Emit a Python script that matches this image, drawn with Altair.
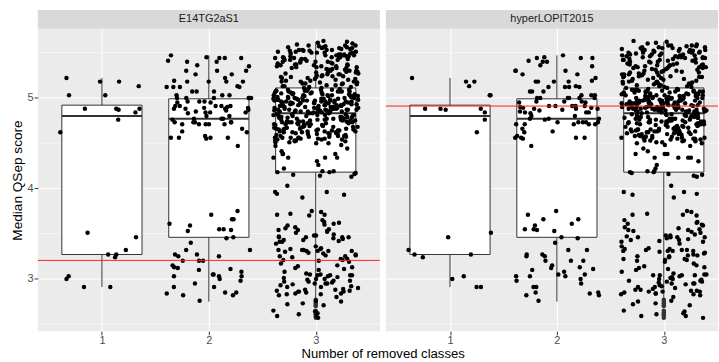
import altair as alt
import pandas as pd

# ---- data -------------------------------------------------------------
panel_names = ["E14TG2aS1", "hyperLOPIT2015"]
reference_score = [3.205, 4.91]      # red reference line per data set
removed_classes = [1, 2, 3]

# box statistics per number of removed classes
whisker_low = [2.91, 2.75, 2.79]
box_q1 = [3.27, 3.46, 4.18]
box_median = [4.80, 4.77, 4.83]
box_q3 = [4.92, 4.99, 5.11]
whisker_high = [5.22, 5.47, 5.62]
outliers_3 = [2.77, 2.75, 2.73, 2.71, 2.70, 2.65, 2.63, 2.61, 2.59, 2.57]

scores_1 = [5.22, 5.18, 5.18, 5.13, 5.03, 5.03, 4.88, 4.88, 4.88, 4.87, 4.84,
            4.76, 4.62, 3.51, 3.46, 3.32, 3.27, 3.27, 3.24, 3.03, 3.00, 2.91, 2.91]

scores_2 = [5.44, 5.44, 5.44, 5.40, 5.40, 5.36, 5.30, 5.47, 5.41, 5.35, 5.30, 5.30,
            5.45, 5.26, 5.26, 5.22, 5.19, 5.18, 5.18, 5.18, 5.18, 5.13, 5.12, 5.12,
            5.12, 5.12, 5.07, 5.07, 5.07, 5.03, 5.03, 5.00, 5.03, 5.00, 5.00, 5.00,
            5.00, 5.00, 4.95, 4.96, 4.96, 4.96, 4.95, 4.91, 4.90, 4.89, 4.91, 4.91,
            4.91, 4.89, 4.88, 4.88, 4.91, 4.88, 4.85, 4.87, 4.84, 4.84, 4.80, 4.86,
            4.83, 4.84, 4.77, 4.73, 4.73, 4.73, 4.73, 4.73, 4.71, 4.71, 4.76, 4.71,
            4.71, 4.77, 4.77, 4.71, 4.80, 4.66, 4.62, 4.63, 4.56, 4.56, 4.56, 4.58,
            4.56, 4.55, 4.47,
            3.75, 3.71, 3.66, 3.66, 3.61, 3.55, 3.53, 3.54, 3.59, 3.55, 3.46, 3.45,
            3.40, 3.32, 3.27, 3.32, 3.25, 3.27, 3.25, 3.20, 3.20, 3.20, 3.15, 3.12,
            3.11, 3.08, 3.13, 3.05, 3.10, 3.05, 3.03, 3.03, 3.00, 3.03, 2.98, 2.95,
            2.91, 2.91, 2.85, 2.84, 2.82, 2.82, 2.85, 2.76]

scores_3 = [
    5.63, 5.62, 5.61, 5.60,
    5.59, 5.58, 5.58, 5.57, 5.57, 5.56, 5.56, 5.55, 5.55, 5.55,
    5.54, 5.54, 5.53, 5.53, 5.53, 5.52, 5.52, 5.52, 5.51, 5.51,
    5.51, 5.50, 5.50, 5.50, 5.50, 5.53, 5.56, 5.58,
    5.49, 5.49, 5.48, 5.48, 5.48, 5.47, 5.47, 5.47, 5.46, 5.46,
    5.46, 5.45, 5.45, 5.45, 5.44, 5.44, 5.44, 5.43, 5.43, 5.42,
    5.42, 5.42, 5.41, 5.41, 5.40, 5.40, 5.40, 5.45, 5.47, 5.43,
    5.39, 5.39, 5.38, 5.38, 5.37, 5.37, 5.36, 5.36, 5.36, 5.35,
    5.35, 5.34, 5.34, 5.34, 5.33, 5.33, 5.32, 5.32, 5.31, 5.31,
    5.30, 5.30, 5.30, 5.35, 5.37, 5.33,
    5.29, 5.29, 5.28, 5.28, 5.27, 5.27, 5.26, 5.26, 5.25, 5.25,
    5.24, 5.24, 5.23, 5.23, 5.23, 5.22, 5.22, 5.21, 5.21, 5.20,
    5.20, 5.26, 5.24, 5.28,
    5.19, 5.19, 5.18, 5.18, 5.17, 5.17, 5.16, 5.16, 5.15, 5.15,
    5.14, 5.14, 5.13, 5.13, 5.12, 5.12, 5.11, 5.11, 5.16, 5.18,
    5.10, 5.10, 5.09, 5.09, 5.09, 5.08, 5.08, 5.08, 5.07, 5.07,
    5.07, 5.07, 5.06, 5.06, 5.06, 5.05, 5.05, 5.05, 5.04, 5.04,
    5.04, 5.03, 5.03, 5.03, 5.03, 5.02, 5.02, 5.02, 5.01, 5.01,
    5.01, 5.00, 5.00, 5.00, 5.00, 5.00, 5.05, 5.08, 5.06, 5.02,
    5.04, 5.09, 5.01, 5.07, 5.03,
    4.99, 4.99, 4.99, 4.98, 4.98, 4.98, 4.97, 4.97, 4.97, 4.97,
    4.96, 4.96, 4.96, 4.95, 4.95, 4.95, 4.95, 4.94, 4.94, 4.94,
    4.93, 4.93, 4.93, 4.92, 4.92, 4.92, 4.92, 4.96, 4.98, 4.94,
    4.97, 4.93, 4.95, 4.99, 4.92, 4.96, 4.94, 4.98, 4.93, 4.97,
    4.95, 4.92, 4.99, 4.94, 4.96,
    4.91, 4.91, 4.91, 4.90, 4.90, 4.90, 4.89, 4.89, 4.89, 4.88,
    4.88, 4.88, 4.88, 4.87, 4.87, 4.87, 4.87, 4.86, 4.86, 4.86,
    4.85, 4.85, 4.85, 4.84, 4.84, 4.84, 4.83, 4.83, 4.83, 4.90,
    4.88, 4.86, 4.89, 4.85, 4.87, 4.91, 4.84, 4.88, 4.90, 4.86,
    4.89, 4.85, 4.87,
    4.82, 4.82, 4.82, 4.81, 4.81, 4.81, 4.80, 4.80, 4.80, 4.79,
    4.79, 4.79, 4.78, 4.78, 4.78, 4.77, 4.77, 4.77, 4.76, 4.76,
    4.76, 4.75, 4.75, 4.75, 4.74, 4.74, 4.74, 4.73, 4.73, 4.73,
    4.72, 4.72, 4.72, 4.71, 4.71, 4.71, 4.71, 4.70, 4.70, 4.70,
    4.81, 4.78, 4.75, 4.72, 4.79, 4.76, 4.73, 4.80, 4.77, 4.74,
    4.69, 4.69, 4.68, 4.68, 4.68, 4.67, 4.67, 4.66, 4.66, 4.66,
    4.65, 4.65, 4.64, 4.64, 4.64, 4.63, 4.63, 4.62, 4.62, 4.62,
    4.61, 4.61, 4.60, 4.60, 4.60, 4.67, 4.65, 4.63, 4.61, 4.69,
    4.66, 4.64, 4.62, 4.68, 4.60, 4.65, 4.63,
    4.59, 4.59, 4.58, 4.58, 4.57, 4.57, 4.56, 4.56, 4.56, 4.56,
    4.55, 4.55, 4.54, 4.54, 4.53, 4.53, 4.52, 4.52, 4.51, 4.51,
    4.50, 4.50, 4.57, 4.55, 4.53, 4.58, 4.56, 4.54,
    4.48, 4.44, 4.41, 4.38, 4.38, 4.38, 4.34, 4.34, 4.34, 4.34,
    4.30, 4.26, 4.22, 4.19, 4.19, 4.18, 4.18, 4.47,
    4.17, 4.16, 4.15, 4.14, 4.13, 4.03, 3.96, 3.96, 3.94, 3.93, 3.90,
    3.74, 3.72, 3.71, 3.71, 3.70, 3.65, 3.63, 3.62, 3.61, 3.60, 3.59,
    3.56, 3.55, 3.54, 3.54, 3.53, 3.51, 3.49, 3.48, 3.48, 3.47, 3.46,
    3.46, 3.46, 3.46, 3.45, 3.44, 3.43, 3.42, 3.41, 3.41, 3.39,
    3.34, 3.33, 3.33, 3.32, 3.32, 3.32, 3.31, 3.31, 3.31, 3.31, 3.30,
    3.28, 3.26, 3.26, 3.25, 3.25, 3.24, 3.22, 3.21, 3.21, 3.20, 3.19,
    3.17, 3.15, 3.14, 3.12, 3.11,
    3.08, 3.06, 3.05, 3.05, 3.04, 3.04, 3.04, 3.04, 3.03, 3.00, 3.00,
    2.99, 2.98, 2.98, 2.97, 2.97, 2.96, 2.95, 2.95, 2.95, 2.93, 2.92,
    2.91, 2.91, 2.89, 2.88, 2.88, 2.87, 2.86, 2.86, 2.86, 2.85, 2.84,
    2.84, 2.83, 2.83, 2.82,
    2.75, 2.73, 2.71, 2.65, 2.64, 2.62, 2.59, 2.59,
    3.75, 3.57, 3.52, 3.43, 3.27, 3.22, 3.13, 3.02, 2.94, 2.87,
    2.80, 2.76, 2.72, 2.61, 2.57, 3.36, 3.29, 3.10, 3.01, 2.90,
]

# ---- layout / style ---------------------------------------------------
FONT = "Liberation Sans"
Y_DOMAIN = [2.423, 5.763]
STEP = 107.5          # pixels per class on the x axis
HEIGHT = 304
WIDTHS = [344, 334]
BOX_HALF = 0.375
JITTER = 0.8
STRIP = 19
DARK = "#333333"
REF_RED = "#FF2020"

score_lists = [scores_1, scores_2, scores_3]

boxes = pd.DataFrame({
    "cls": removed_classes, "low": whisker_low, "q1": box_q1,
    "med": box_median, "q3": box_q3, "high": whisker_high,
})
outliers = pd.DataFrame({"cls": 3, "score": outliers_3})
minor = pd.DataFrame({"g": [2.5, 3.5, 4.5, 5.5]})


def panel(i):
    width = WIDTHS[i]
    xs = alt.Scale(domain=[0.4, 0.4 + width / STEP], nice=False, zero=False)
    ys = alt.Scale(domain=Y_DOMAIN, nice=False, zero=False)
    xaxis = alt.Axis(values=[1, 2, 3], format="d", title=None, grid=True, labelPadding=0)
    if i == 0:
        yaxis = alt.Axis(values=[3, 4, 5], format="d", title="Median QSep score", grid=True)
    else:
        yaxis = alt.Axis(values=[3, 4, 5], labels=False, ticks=False, title=None, grid=True)

    def X(f):
        return alt.X(f, scale=xs, axis=xaxis)

    def Y(f):
        return alt.Y(f, scale=ys, axis=yaxis)

    rows = []
    for c, vals in zip(removed_classes, score_lists):
        for k, v in enumerate(vals):
            rows.append({"cls": c, "score": v, "idx": k + 1000 * c})
    pts = pd.DataFrame(rows)
    seed = 17.31 + 41.7 * i

    grid_minor = alt.Chart(minor).mark_rule(color="white", strokeWidth=0.55).encode(y=Y("g:Q"))

    whisk = alt.Chart(boxes).mark_rule(color=DARK, strokeWidth=1).encode(
        x=X("cls:Q"), y=Y("low:Q"), y2="high:Q")

    box = alt.Chart(boxes).transform_calculate(
        lo=f"datum.cls - {BOX_HALF}", hi=f"datum.cls + {BOX_HALF}"
    ).mark_rect(fill="white", stroke=DARK, strokeWidth=1).encode(
        x=X("lo:Q"), x2="hi:Q", y=Y("q1:Q"), y2="q3:Q")

    med = alt.Chart(boxes).transform_calculate(
        lo=f"datum.cls - {BOX_HALF}", hi=f"datum.cls + {BOX_HALF}"
    ).mark_rule(color=DARK, strokeWidth=2).encode(
        x=X("lo:Q"), x2="hi:Q", y=Y("med:Q"))

    outl = alt.Chart(outliers).mark_circle(size=20, color=DARK, opacity=1).encode(
        x=X("cls:Q"), y=Y("score:Q"))

    jit = alt.Chart(pts).transform_calculate(
        xj=f"datum.cls + {JITTER} * ((abs(sin(datum.idx * 12.9898 + {seed}) * 43758.5453) % 1) - 0.5)"
    ).mark_circle(size=20, color="black", opacity=1, clip=True).encode(
        x=X("xj:Q"), y=Y("score:Q"))

    ref = alt.Chart(pd.DataFrame({"ref": [reference_score[i]], "p": [i]})).mark_rule(
        stroke=REF_RED, color=REF_RED, strokeWidth=1).encode(
        y=Y("ref:Q"), x=alt.value(0), x2=alt.value(width))

    lab = pd.DataFrame({"name": [panel_names[i]]})
    strip = alt.Chart(lab).mark_rect(color="#D9D9D9").encode(
        x=alt.value(0), x2=alt.value(width), y=alt.value(-STRIP), y2=alt.value(0))
    strip_text = alt.Chart(lab).mark_text(
        font=FONT, fontSize=11, color="#1A1A1A", baseline="middle", align="center"
    ).encode(text="name:N", x=alt.value(width / 2), y=alt.value(-STRIP / 2))

    return alt.layer(grid_minor, whisk, box, med, outl, jit, ref, strip, strip_text).properties(
        width=width, height=HEIGHT)


chart = alt.hconcat(panel(0), panel(1), spacing=4).properties(
    padding={"left": 10, "top": 9, "right": 0, "bottom": 0},
    title=alt.TitleParams(
        text="Number of removed classes", orient="bottom", anchor="middle",
        frame="bounds", dx=19, font=FONT, fontSize=13.2, fontWeight="normal",
        color="black", offset=2, lineHeight=13),
).configure_view(
    fill="#EBEBEB", stroke=None
).configure_axis(
    domain=False, gridColor="white", gridWidth=1.1,
    tickColor=DARK, tickSize=3.7, tickWidth=1,
    labelFont=FONT, labelFontSize=11, labelColor="#4D4D4D", labelPadding=1,
    titleFont=FONT, titleFontSize=13.7, titleFontWeight="normal", titleColor="black",
    titlePadding=3,
)

chart.save("out.html", embed_options={"renderer": "svg", "actions": False})
